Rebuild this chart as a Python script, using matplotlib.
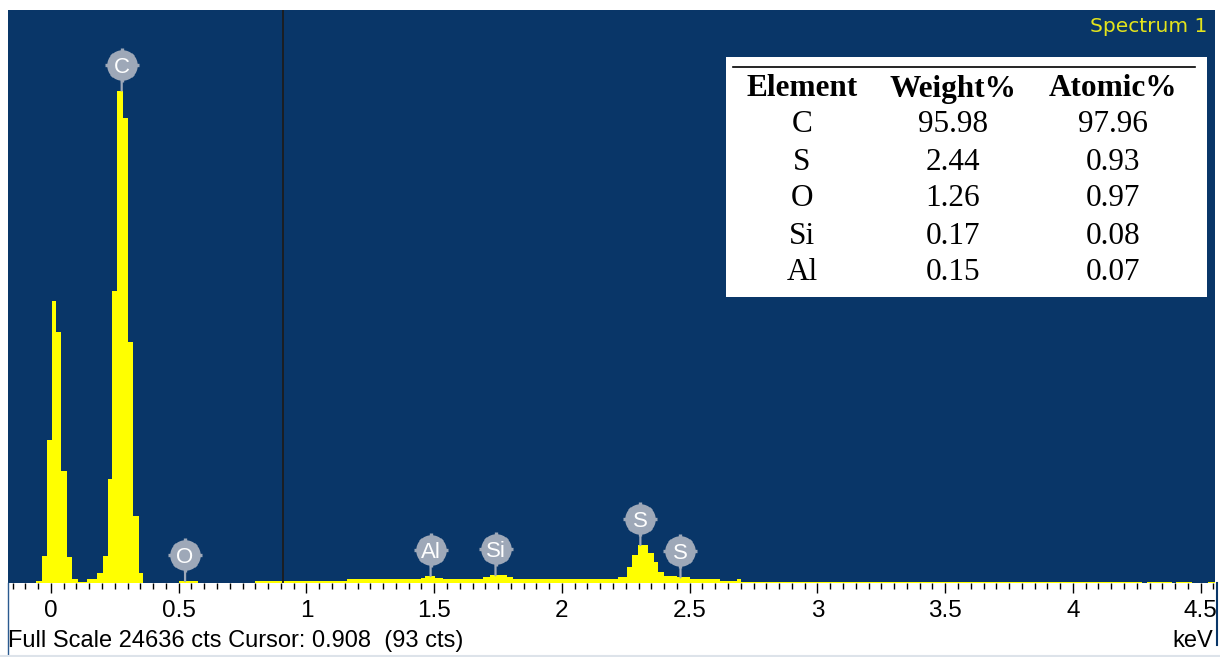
import numpy as np
import matplotlib
matplotlib.use("Agg")
import matplotlib.pyplot as plt
from matplotlib.ticker import MultipleLocator
from matplotlib.transforms import offset_copy
from matplotlib.patches import Rectangle
from matplotlib.lines import Line2D

# EDS spectrum: step edges (keV) and counts in each step
edges = [-0.168, -0.059, -0.036, -0.017, 0.005, 0.018, 0.039, 0.061, 0.083, 0.107,
         0.142, 0.181, 0.202, 0.224, 0.238, 0.260, 0.281, 0.303, 0.322, 0.344,
         0.359, 0.501, 0.575, 0.798, 1.157, 1.450, 1.464, 1.505, 1.535, 1.691,
         1.718, 1.784, 1.809, 2.220, 2.253, 2.275, 2.299, 2.338, 2.360, 2.377,
         2.399, 2.450, 2.501, 2.618, 2.684, 2.700, 4.272, 4.288, 4.389, 4.405,
         4.466, 4.528, 4.556]
counts = [0, 100, 1170, 6150, 12140, 10800, 4830, 1100, 160, 60,
          160, 420, 1170, 4470, 12560, 21170, 20010, 10350, 2890, 420,
          0, 90, 0, 65, 160, 200, 300, 230, 160, 245,
          330, 245, 160, 245, 700, 1200, 1630, 1280, 920, 490,
          300, 245, 160, 70, 180, 35, 15, 60, 20, 60,
          20, 60]

full_scale = 24636
cursor_kev = 0.908

# element line markers
line_labels = ["C", "O", "Al", "Si", "S", "S"]
line_kev = [0.277, 0.525, 1.486, 1.740, 2.307, 2.464]

# quantification table
tab_elements = ["C", "S", "O", "Si", "Al"]
tab_weight = ["95.98", "2.44", "1.26", "0.17", "0.15"]
tab_atomic = ["97.96", "0.93", "0.97", "0.08", "0.07"]
tab_header = ["Element", "Weight%", "Atomic%"]

W, H = 1220, 657
bg = "#093668"
marker_col = "#9ea8b8"
sans = ["Liberation Sans Narrow", "Liberation Sans", "DejaVu Sans"]
serif = ["Liberation Serif", "DejaVu Serif"]


def fx(px):
    return px / W


def fy(py):
    return 1 - py / H


fig = plt.figure(figsize=(W / 100, H / 100), dpi=100)
ax = fig.add_axes([fx(8), fy(583), fx(1215) - fx(8), fy(10) - fy(583)])
ax.set_facecolor(bg)
for s in ax.spines.values():
    s.set_visible(False)

ax.stairs(counts, edges, fill=True, color="#ffff00", lw=0)
ax.axvline(cursor_kev, color="#1c1c1c", lw=1.3)

ax.set_xlim(edges[0], edges[-1])
ax.set_ylim(0, full_scale)
ax.set_yticks([])

majors = np.arange(0, 4.51, 0.5)
ax.set_xticks(majors)
ax.set_xticklabels([f"{v:g}" for v in majors], fontsize=17.5, family=sans)
ax.xaxis.set_minor_locator(MultipleLocator(0.05))
ax.tick_params(axis="x", which="major", direction="out", length=7, width=1.0,
               color="black", pad=5)
ax.tick_params(axis="x", which="minor", direction="out", length=4, width=1.0,
               color="black")

# element markers: stem + grey knob with symbol
for lab, e in zip(line_labels, line_kev):
    i = np.searchsorted(edges, e) - 1
    h = counts[i]
    ax.annotate("", xy=(e, h), xytext=(0, 12), textcoords="offset points",
                arrowprops=dict(arrowstyle="-", color=marker_col, lw=1.6,
                                shrinkA=0, shrinkB=0))
    tr = offset_copy(ax.transData, fig=fig, x=0, y=26, units="dots")
    ax.plot([e], [h], marker="+", ms=24, mew=2.4, color=marker_col, transform=tr)
    ax.plot([e], [h], marker="x", ms=16.5, mew=2.4, color=marker_col, transform=tr)
    ax.plot([e], [h], marker="o", ms=22, color=marker_col, mec="none", transform=tr)
    ax.text(e, h, lab, transform=tr, ha="center", va="center_baseline",
            color="white", fontsize=16, family=sans)

# Spectrum label
fig.text(fx(1207), fy(27), "Spectrum 1", ha="right", va="center",
         color="#e4e41c", fontsize=14.5, family=["DejaVu Sans"])

# quantification table
fig.patches.append(Rectangle((fx(726), fy(297)), fx(1207) - fx(726), fy(57) - fy(297),
                             transform=fig.transFigure, facecolor="white",
                             edgecolor="none", zorder=5))
fig.lines.append(Line2D([fx(733), fx(1195)], [fy(67), fy(67)], transform=fig.transFigure,
                        color="black", lw=1.2, zorder=6))
col_x = [802, 953, 1113]
for cx, t in zip(col_x, tab_header):
    fig.text(fx(cx), fy(89), t, ha="center", va="center", fontsize=22.5,
             fontweight="bold", family=serif, zorder=7)
row_y = [125, 162, 198, 236, 272]
for ry, el, w, a in zip(row_y, tab_elements, tab_weight, tab_atomic):
    for cx, t in zip(col_x, [el, w, a]):
        fig.text(fx(cx), fy(ry), t, ha="center", va="center", fontsize=22.5,
                 family=serif, zorder=7)

# status bar texts
fig.text(fx(8), fy(641), "Full Scale 24636 cts Cursor: 0.908  (93 cts)",
         ha="left", va="center", fontsize=17, family=sans)
fig.text(fx(1213), fy(641), "keV", ha="right", va="center", fontsize=17, family=sans)

# window frame lines
fig.lines.append(Line2D([fx(7.5), fx(7.5)], [fy(583), fy(657)], transform=fig.transFigure,
                        color="#2a5a90", lw=1.0))
fig.lines.append(Line2D([fx(1216.5), fx(1216.5)], [fy(583), fy(645)],
                        transform=fig.transFigure, color=bg, lw=1.5))
fig.lines.append(Line2D([0, 1], [fy(655.5), fy(655.5)], transform=fig.transFigure,
                        color="#dde3ea", lw=1.5))

fig.savefig("out.png", dpi=100, facecolor="white")
